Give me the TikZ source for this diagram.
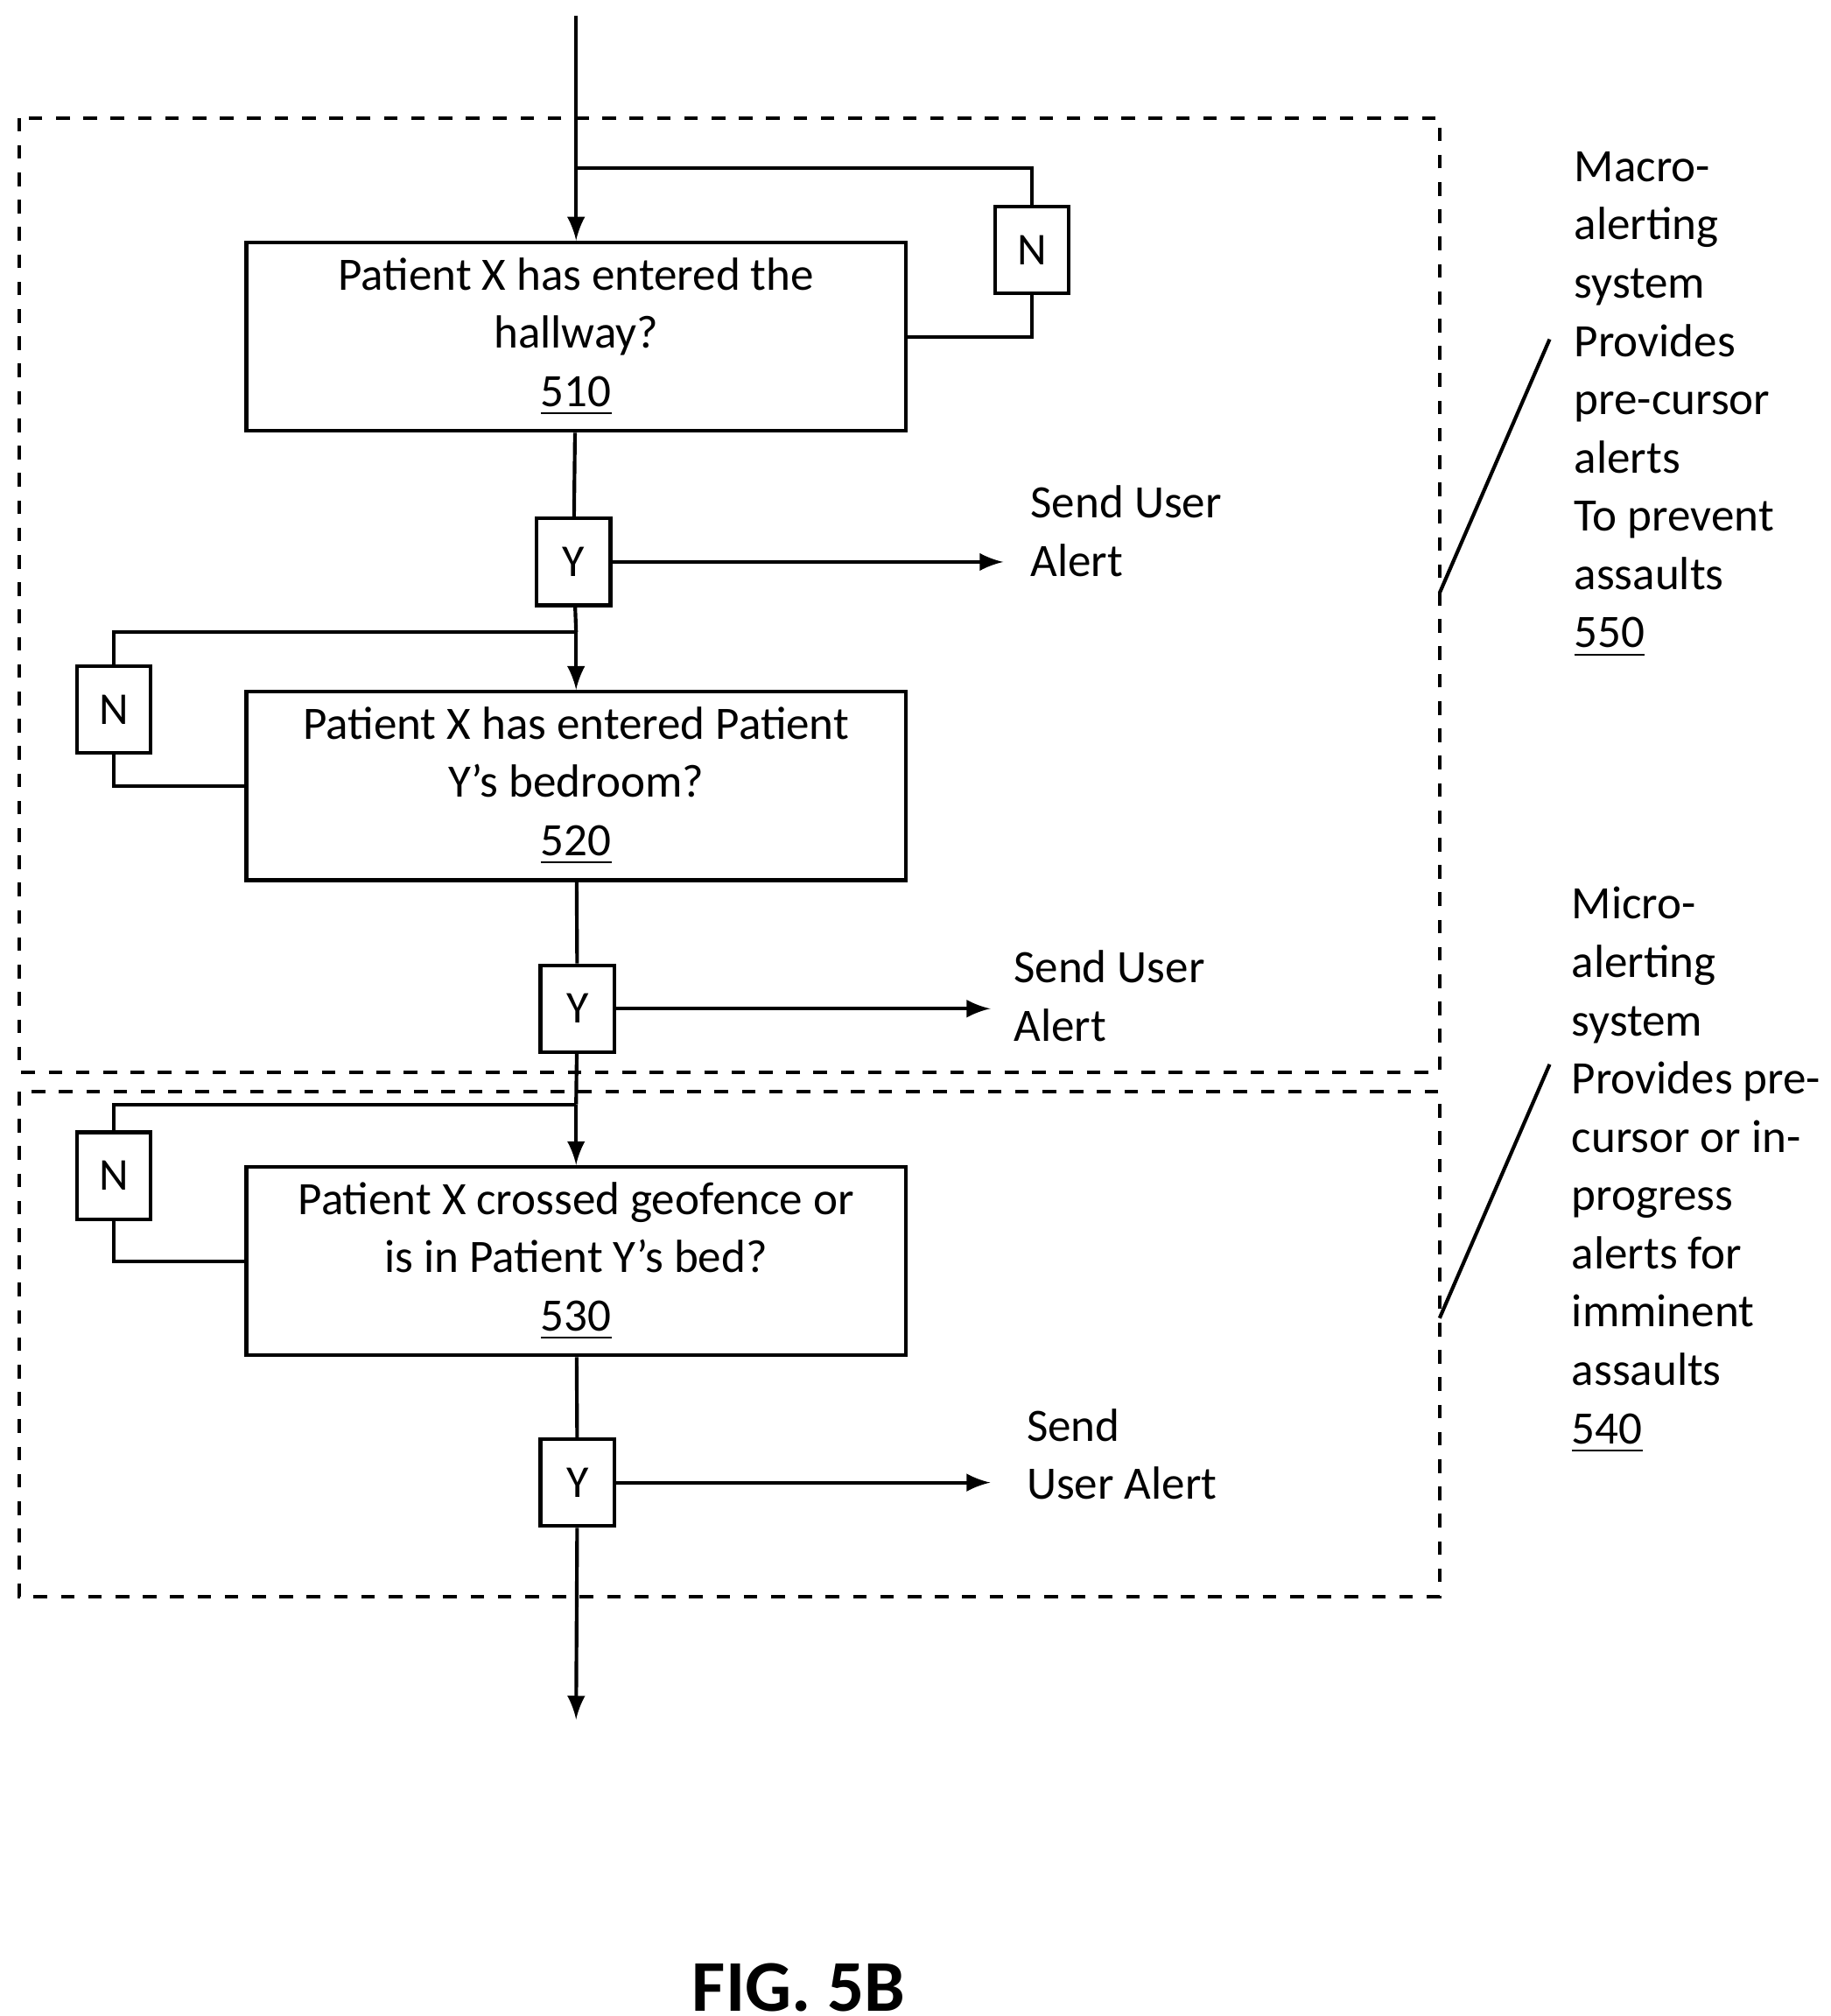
\documentclass[tikz,border=0pt]{standalone}
\usepackage{fontspec}
\setmainfont{Carlito}
\usetikzlibrary{arrows,positioning}

\begin{document}
\begin{tikzpicture}[x=0.01cm, y=-0.01cm, ->, >=latex, thick]

    \useasboundingbox (0,0) rectangle (1414,1557);

    \tikzset{
        stepbox/.style={draw, rectangle, minimum width=5.09cm, minimum height=1.45cm, align=center, font=\fontsize{10.2}{12.8}\selectfont},
        yn/.style={draw, rectangle, minimum width=0.57cm, minimum height=0.67cm, font=\fontsize{10}{12}\selectfont},
        note/.style={anchor=north west, align=left, font=\fontsize{10.2}{12.8}\selectfont},
        zone/.style={draw, dashed, -}
    }

    % Dashed zones
    \draw[zone] (15,91) rectangle (1112,828);
    \draw[zone] (15,843) rectangle (1112,1233);

    % Decision boxes
    \node (Hallway) [stepbox] at (445,260) {Patient X has entered the\\hallway?\\\underline{510}};
    \node (Bedroom) [stepbox] at (445,607) {Patient X has entered Patient\\Y’s bedroom?\\\underline{520}};
    \node (Geofence) [stepbox] at (445,974) {Patient X crossed geofence or\\is in Patient Y’s bed?\\\underline{530}};

    % Y / N boxes
    \node (Nhall) [yn] at (797,193) {N};
    \node (Yhall) [yn] at (443,434) {Y};
    \node (Nbed) [yn] at (88,548) {N};
    \node (Ybed) [yn] at (446,779) {Y};
    \node (Ngeo) [yn] at (88,908) {N};
    \node (Ygeo) [yn] at (446,1145) {Y};

    % Helper points
    \coordinate (Top) at (445,12);
    \coordinate (Bottom) at (445,1328);
    \coordinate (Jhall) at (445,130);
    \coordinate (Jbed) at (445,488);
    \coordinate (Jgeo) at (445,853);
    \coordinate (Ahall) at (775,434);
    \coordinate (Abed) at (765,779);
    \coordinate (Ageo) at (765,1145);

    % Main flow
    \draw[-] (Top) -- (Jhall);
    \draw[->] (Jhall) -- (Hallway);
    \draw[-] (Hallway) -- (Yhall);
    \draw[-] (Yhall) -- (Jbed);
    \draw[->] (Jbed) -- (Bedroom);
    \draw[-] (Bedroom) -- (Ybed);
    \draw[-] (Ybed) -- (Jgeo);
    \draw[->] (Jgeo) -- (Geofence);
    \draw[-] (Geofence) -- (Ygeo);
    \draw[->] (Ygeo) -- (Bottom);

    % No loops
    \draw[-] (Hallway.east) -| (Nhall);
    \draw[-] (Nhall) |- (Jhall);
    \draw[-] (Bedroom.west) -| (Nbed);
    \draw[-] (Nbed) |- (Jbed);
    \draw[-] (Geofence.west) -| (Ngeo);
    \draw[-] (Ngeo) |- (Jgeo);

    % Alerts
    \draw[->] (Yhall) -- (Ahall);
    \draw[->] (Ybed) -- (Abed);
    \draw[->] (Ygeo) -- (Ageo);
    \node[note] at (783,362) {Send User\\Alert};
    \node[note] at (770,721) {Send User\\Alert};
    \node[note] at (780,1075) {Send\\User Alert};

    % Side notes
    \draw[-] (1112,458) -- (1197,262);
    \draw[-] (1112,1018) -- (1197,822);
    \node[note] at (1203,104) {Macro-\\alerting\\system\\Provides\\pre-cursor\\alerts\\To prevent\\assaults\\\underline{550}};
    \node[note] at (1201,672) {Micro-\\alerting\\system\\Provides pre-\\cursor or in-\\progress\\alerts for\\imminent\\assaults\\\underline{540}};

    \node[font=\bfseries\fontsize{16}{19}\selectfont] at (617,1535) {FIG. 5B};

\end{tikzpicture}
\end{document}
